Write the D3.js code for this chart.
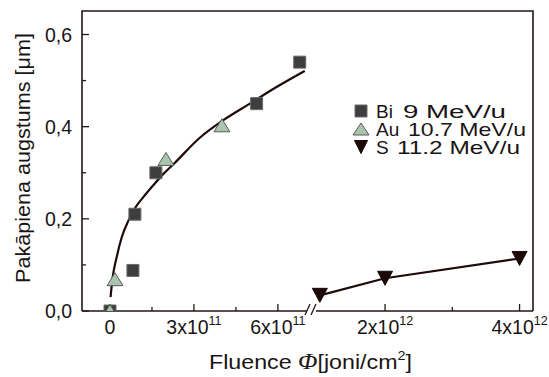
<!DOCTYPE html>
<html><head><meta charset="utf-8">
<script src="https://cdn.jsdelivr.net/npm/d3@7"></script>
<style>
body{margin:0;background:#fff}
text{font-family:"Liberation Sans",Arial,sans-serif;fill:#1a1414}
</style>
</head><body>
<svg id="chart" width="549" height="377"></svg>
<script>
// Measured step heights vs. fluence for three ion beams
const biFluence = [0, 0.82e11, 0.89e11, 1.64e11, 5.24e11, 6.78e11];
const biHeight  = [0, 0.088, 0.21, 0.30, 0.45, 0.54];
const auFluence = [0, 0.18e11, 2.0e11, 4.0e11];
const auHeight  = [0, 0.069, 0.33, 0.403];
const sFluence  = [1.03e12, 2e12, 4e12];
const sHeight   = [0.034, 0.071, 0.114];
// Fitted trend through the Bi/Au points
const fitFluence = [0.02e11, 0.096e11, 0.24e11, 0.42e11, 0.65e11, 0.89e11, 1.19e11, 1.55e11, 1.90e11, 2.26e11, 3.21e11, 4.05e11, 5.0e11, 5.95e11, 6.96e11];
const fitHeight  = [0.030, 0.073, 0.117, 0.160, 0.195, 0.223, 0.247, 0.273, 0.297, 0.318, 0.376, 0.414, 0.450, 0.486, 0.521];

const legendNames    = ["Bi", "Au", "S"];
const legendEnergies = ["9 MeV/u", "10.7 MeV/u", "11.2 MeV/u"];

const yTicks = [0, 0.2, 0.4, 0.6];
const yLabels = ["0,0", "0,2", "0,4", "0,6"];
const yMinor = [0.1, 0.3, 0.5];
const xLeftTicks = [0, 3e11, 6e11];
const xLeftLabels = [["0", ""], ["3x10", "11"], ["6x10", "11"]];
const xLeftMinor = [1.5e11, 4.5e11];
const xRightTicks = [2e12, 4e12];
const xRightLabels = [["2x10", "12"], ["4x10", "12"]];
const xRightMinor = [3e12];

const svg = d3.select("#chart");
const L = 82, R = 533, T = 11, B = 311;
const breakL = 307, breakR = 316;
const ink = "#241616";

const y = d3.scaleLinear().domain([0, 0.651]).range([B, T]);
const xL = d3.scaleLinear().domain([-1e11, 7.04e11]).range([L, breakL]);
const xR = d3.scaleLinear().domain([0.973e12, 4.2e12]).range([breakR, R]);

svg.append("rect").attr("width", 549).attr("height", 377).attr("fill", "#fff");

svg.append("clipPath").attr("id", "plotClip")
  .append("rect").attr("x", L).attr("y", T).attr("width", R - L).attr("height", B - T);

// Frame: left, top, right; bottom drawn as a broken axis
const frame = svg.append("g").attr("stroke", ink).attr("stroke-width", 1.6).attr("fill", "none");
frame.append("path").attr("d", `M${L},${B}V${T}H${R}V${B}`);
frame.append("path").attr("d", `M${L},${B}H${breakL}`);
frame.append("path").attr("d", `M${breakR},${B}H${R}`);
// break marks
frame.append("path").attr("stroke-width", 1.3)
  .attr("d", `M${breakL - 2},${B + 4}L${breakL + 3},${B - 7}M${breakR - 5},${B + 4}L${breakR},${B - 7}`);

// Inward ticks
const tk = svg.append("g").attr("stroke", ink).attr("stroke-width", 1.3);
yTicks.forEach(v => tk.append("line").attr("x1", L).attr("x2", L + 7).attr("y1", y(v)).attr("y2", y(v)));
yMinor.forEach(v => tk.append("line").attr("x1", L).attr("x2", L + 4).attr("y1", y(v)).attr("y2", y(v)));
xLeftTicks.forEach(v => tk.append("line").attr("x1", xL(v)).attr("x2", xL(v)).attr("y1", B).attr("y2", B - 7));
xLeftMinor.forEach(v => tk.append("line").attr("x1", xL(v)).attr("x2", xL(v)).attr("y1", B).attr("y2", B - 4));
xRightTicks.forEach(v => tk.append("line").attr("x1", xR(v)).attr("x2", xR(v)).attr("y1", B).attr("y2", B - 7));
xRightMinor.forEach(v => tk.append("line").attr("x1", xR(v)).attr("x2", xR(v)).attr("y1", B).attr("y2", B - 4));

// Tick labels
yTicks.forEach((v, i) => svg.append("text").attr("x", 72).attr("y", y(v)).attr("dy", "0.36em")
  .attr("text-anchor", "end").attr("font-size", 19.5).text(yLabels[i]));

function xLabel(px, parts) {
  const t = svg.append("text").attr("x", px).attr("y", 334).attr("text-anchor", "middle").attr("font-size", 19.5);
  t.append("tspan").text(parts[0]);
  if (parts[1]) t.append("tspan").attr("dy", -9).attr("font-size", 12.5).text(parts[1]);
}
xLeftTicks.forEach((v, i) => xLabel(xL(v), xLeftLabels[i]));
xRightTicks.forEach((v, i) => xLabel(xR(v), xRightLabels[i]));

// Axis titles
const xt = svg.append("text").attr("x", 209).attr("y", 369).attr("font-size", 21)
  .attr("textLength", 203).attr("lengthAdjust", "spacingAndGlyphs");
xt.append("tspan").text("Fluence ");
xt.append("tspan").attr("font-family", "'Liberation Serif',serif").attr("font-style", "italic").attr("font-size", 23).text("Φ");
xt.append("tspan").text("[joni/cm");
xt.append("tspan").attr("dy", -9).attr("font-size", 13).text("2");
xt.append("tspan").attr("dy", 9).text("]");

svg.append("text").attr("transform", "translate(30,158) rotate(-90)")
  .attr("text-anchor", "middle").attr("font-size", 21)
  .attr("textLength", 250).attr("lengthAdjust", "spacingAndGlyphs")
  .text("Pakāpiena augstums [μm]");

// Marker shapes centred on their bounding box
const sq = (cx, cy, s) => `M${cx - s / 2},${cy - s / 2}h${s}v${s}h${-s}Z`;
const triUp = (cx, cy, w, h) => `M${cx},${cy - h / 2}L${cx + w / 2},${cy + h / 2}L${cx - w / 2},${cy + h / 2}Z`;
const triDn = (cx, cy, w, h) => `M${cx},${cy + h / 2}L${cx + w / 2},${cy - h / 2}L${cx - w / 2},${cy - h / 2}Z`;

const plot = svg.append("g").attr("clip-path", "url(#plotClip)");

// Fit curve (left segment)
const fitPts = fitFluence.map((f, i) => [f, fitHeight[i]]);
plot.append("path").datum(fitPts)
  .attr("d", d3.line().x(d => xL(d[0])).y(d => y(d[1])).curve(d3.curveMonotoneX))
  .attr("fill", "none").attr("stroke", "#1e0a0a").attr("stroke-width", 2.2);

// S line (right segment)
const sPts = sFluence.map((f, i) => [f, sHeight[i]]);
plot.append("path").datum(sPts)
  .attr("d", d3.line().x(d => xR(d[0])).y(d => y(d[1])))
  .attr("fill", "none").attr("stroke", "#1e0a0a").attr("stroke-width", 2.2);

const biFill = "#3e3e3e", biStroke = "#6a6a6a";
const auFill = "#a9c6ad", auStroke = "#5a5a5a";
const sFill = "#1c0707";

biFluence.forEach((f, i) => plot.append("path").attr("d", sq(xL(f), y(biHeight[i]), 12))
  .attr("fill", biFill).attr("stroke", biStroke).attr("stroke-width", 1));
auFluence.forEach((f, i) => plot.append("path").attr("d", triUp(xL(f), y(auHeight[i]), 16, 13))
  .attr("fill", auFill).attr("stroke", auStroke).attr("stroke-width", 1));
sFluence.forEach((f, i) => plot.append("path").attr("d", triDn(xR(f), y(sHeight[i]), 15, 14))
  .attr("fill", sFill).attr("stroke", sFill).attr("stroke-width", 1));

// Legend
const lgX = 361, lgY = [111, 129, 147];
svg.append("path").attr("d", sq(lgX, lgY[0], 12)).attr("fill", biFill).attr("stroke", biStroke);
svg.append("path").attr("d", triUp(lgX, lgY[1], 16, 12)).attr("fill", auFill).attr("stroke", auStroke);
svg.append("path").attr("d", triDn(lgX, lgY[2], 13, 13)).attr("fill", sFill).attr("stroke", sFill);
const energyX = [403, 408, 397];
const energyW = [103, 118, 123];
legendNames.forEach((n, i) => {
  svg.append("text").attr("x", 376).attr("y", lgY[i]).attr("dy", "0.36em").attr("font-size", 19).text(n);
  svg.append("text").attr("x", energyX[i]).attr("y", lgY[i]).attr("dy", "0.36em").attr("font-size", 19)
    .attr("textLength", energyW[i]).attr("lengthAdjust", "spacingAndGlyphs").text(legendEnergies[i]);
});
</script>
</body></html>
